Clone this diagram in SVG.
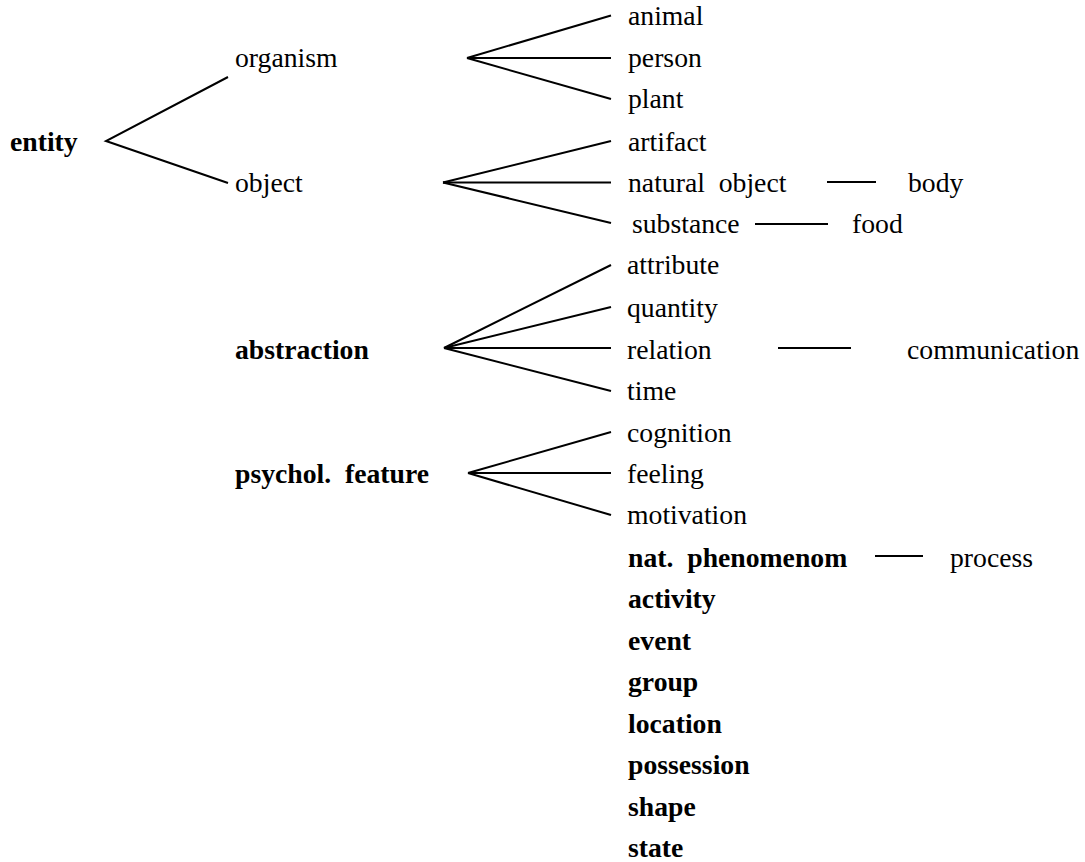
<svg xmlns="http://www.w3.org/2000/svg" width="1085" height="862" viewBox="0 0 1085 862">
<style>
text{font-family:'Liberation Serif','Times New Roman','DejaVu Serif',serif;font-size:27.7px;fill:#000;white-space:pre}
.b{font-weight:bold}
.c line,.c polyline{stroke:#000;stroke-width:2;fill:none}
</style>
<rect width="1085" height="862" fill="#fff"/>
<g class="c" id="connectors">
<polyline points="228,77 106,141 228,183"/>
<line x1="467" y1="58" x2="611" y2="15.5"/>
<line x1="467" y1="58" x2="611" y2="58"/>
<line x1="467" y1="58" x2="611" y2="99"/>
<line x1="443" y1="182.5" x2="611" y2="141"/>
<line x1="443" y1="182.5" x2="611" y2="182.5"/>
<line x1="443" y1="182.5" x2="611" y2="223"/>
<line x1="444" y1="348" x2="611" y2="265"/>
<line x1="444" y1="348" x2="611" y2="307"/>
<line x1="444" y1="348" x2="611" y2="348"/>
<line x1="444" y1="348" x2="611" y2="391"/>
<line x1="468" y1="473" x2="611" y2="432"/>
<line x1="468" y1="473" x2="611" y2="473"/>
<line x1="468" y1="473" x2="611" y2="515"/>
<line x1="827" y1="182" x2="876" y2="182"/>
<line x1="755" y1="224" x2="828" y2="224"/>
<line x1="778" y1="348" x2="851" y2="348"/>
<line x1="875" y1="556" x2="923" y2="556"/>
</g>
<g id="entity"><text class="b" x="10" y="151">entity</text></g>
<g id="organism"><text x="235" y="67">organism</text></g>
<g id="object"><text x="235" y="192">object</text></g>
<g id="animal"><text x="628" y="25">animal</text></g>
<g id="person"><text x="628" y="67">person</text></g>
<g id="plant"><text x="628" y="108">plant</text></g>
<g id="artifact"><text x="628" y="150.5">artifact</text></g>
<g id="natural-object"><text x="628" y="192">natural  object</text></g>
<g id="body"><text x="908" y="192">body</text></g>
<g id="substance"><text x="632" y="233">substance</text></g>
<g id="food"><text x="852" y="233">food</text></g>
<g id="abstraction"><text class="b" x="235" y="359">abstraction</text></g>
<g id="attribute"><text x="627" y="274">attribute</text></g>
<g id="quantity"><text x="627" y="317">quantity</text></g>
<g id="relation"><text x="627" y="359">relation</text></g>
<g id="communication"><text x="907" y="359">communication</text></g>
<g id="time"><text x="627" y="400">time</text></g>
<g id="psychol-feature"><text class="b" x="235" y="483">psychol.  feature</text></g>
<g id="cognition"><text x="627" y="442">cognition</text></g>
<g id="feeling"><text x="627" y="483">feeling</text></g>
<g id="motivation"><text x="627" y="524">motivation</text></g>
<g id="nat-phenomenom"><text class="b" x="628" y="567">nat.  phenomenom</text></g>
<g id="process"><text x="950" y="567">process</text></g>
<g id="activity"><text class="b" x="628" y="608">activity</text></g>
<g id="event"><text class="b" x="628" y="649.5">event</text></g>
<g id="group"><text class="b" x="628" y="691">group</text></g>
<g id="location"><text class="b" x="628" y="733">location</text></g>
<g id="possession"><text class="b" x="628" y="774">possession</text></g>
<g id="shape"><text class="b" x="628" y="816">shape</text></g>
<g id="state"><text class="b" x="628" y="857">state</text></g>
</svg>
